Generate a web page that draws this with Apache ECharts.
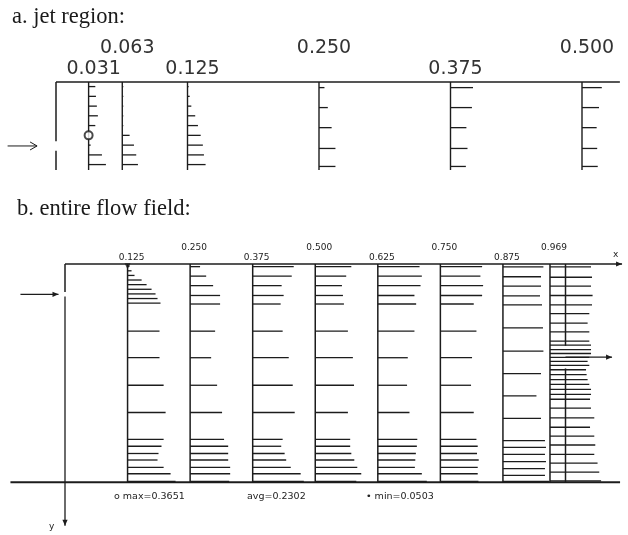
<!DOCTYPE html>
<html><head><meta charset="utf-8">
<script src="https://cdn.jsdelivr.net/npm/echarts@6/dist/echarts.min.js"></script>
<style>html,body{margin:0;padding:0;background:#fff}#c{width:628px;height:535px}</style>
</head><body><div id="c"></div>
<script>
// ---------------- data ----------------
const stationsA = [0.031, 0.063, 0.125, 0.250, 0.375, 0.500];
const labelsA = ['0.031', '0.063', '0.125', '0.250', '0.375', '0.500'];
const stationsB = [0.125, 0.250, 0.375, 0.500, 0.625, 0.750, 0.875, 0.969];
const labelsB = ['0.125', '0.250', '0.375', '0.500', '0.625', '0.750', '0.875', '0.969'];

// grid rows (depth y, same units as x)
const yFine = [0.0044, 0.0138, 0.0232, 0.0325, 0.0419, 0.0513, 0.0607, 0.0701, 0.0794];
const yCoarse = [0.0054, 0.0246, 0.0439, 0.0639, 0.0812, 0.1363, 0.1902, 0.2461, 0.3014,
                 0.3559, 0.3699, 0.3846, 0.3978, 0.4126, 0.4257, 0.4411];
const y875 = [0.0060, 0.0259, 0.0449, 0.0645, 0.0828, 0.1297, 0.1770, 0.2226, 0.2675, 0.3134,
              0.3583, 0.3723, 0.3862, 0.4012, 0.4152, 0.4291, 0.4411];
const y969 = [0.0060, 0.0269, 0.0449, 0.0639, 0.0828, 0.1008, 0.1198, 0.1377, 0.1567, 0.1647,
              0.1737, 0.1816, 0.1896, 0.1976, 0.2056, 0.2146, 0.2246, 0.2345, 0.2445, 0.2545,
              0.2645, 0.2745, 0.2924, 0.3124, 0.3313, 0.3493, 0.3673, 0.3862, 0.4042, 0.4222, 0.4401];

// horizontal velocity at each row
const u031 = [0.086, 0.094, 0.106, 0.119, 0.086, null, 0.026, 0.171, 0.222];
const u063 = [0.013, 0.013, 0.013, 0.013, 0.013, 0.094, 0.150, 0.179, 0.201];
const u125 = [0.014, 0.028, 0.049, 0.099, 0.134, 0.169, 0.197, 0.211, 0.232,
              0.225, 0.225, 0.254, 0.268, 0.254, 0.239, 0.218, 0.211, 0.254, 0.303, 0.338];
const u250 = [0.070, 0.113, 0.162, 0.211, 0.211, 0.176, 0.148, 0.190, 0.225, 0.239, 0.268, 0.268, 0.268, 0.282, 0.282, 0.275];
const u375 = [0.289, 0.275, 0.204, 0.218, 0.197, 0.211, 0.254, 0.282, 0.296, 0.211, 0.201, 0.225, 0.236, 0.268, 0.338, 0.360];
const u500 = [0.254, 0.218, 0.188, 0.195, 0.202, 0.230, 0.265, 0.273, 0.230, 0.246, 0.246, 0.254, 0.275, 0.296, 0.324, 0.289];
const u625 = [0.294, 0.310, 0.301, 0.258, 0.270, 0.258, 0.211, 0.206, 0.223, 0.278, 0.275, 0.268, 0.264, 0.261, 0.310, 0.345];
const u750 = [0.294, 0.282, 0.301, 0.294, 0.235, 0.254, 0.223, 0.216, 0.235, 0.254, 0.263, 0.258, 0.270, 0.263, 0.263, 0.268];
const u875 = [0.285, 0.268, 0.268, 0.261, 0.275, 0.282, 0.285, 0.268, 0.236, 0.268, 0.296, 0.303, 0.296, 0.303, 0.296, 0.296, 0.324];
const u969 = [0.289, 0.296, 0.289, 0.300, 0.296, 0.277, 0.265, 0.277, 0.277, 0.289, 0.289, 0.289, 0.277, 0.265, 0.277, 0.254,
              0.258, 0.265, 0.277, 0.289, 0.289, 0.282, 0.289, 0.312, 0.282, 0.312, 0.319, 0.312, 0.335, 0.347, 0.360];

const maxValue = 0.3651, avgValue = 0.2302, minValue = 0.0503;
const maxPoint = [0.031, 0.0513];
const minPoint = [0.125, 0.0044];
const inletSpan = [0.057, 0.066];
const outletSpan = [0.166, 0.212];
const depth = 0.443;

// ---------------- build ----------------
const profiles = [
  {x: 0.031, y: yFine, u: u031},
  {x: 0.063, y: yFine, u: u063},
  {x: 0.125, y: yFine.concat(yCoarse.slice(5)), u: u125},
  {x: 0.250, y: yCoarse, u: u250},
  {x: 0.375, y: yCoarse, u: u375},
  {x: 0.500, y: yCoarse, u: u500},
  {x: 0.625, y: yCoarse, u: u625},
  {x: 0.750, y: yCoarse, u: u750},
  {x: 0.875, y: y875, u: u875},
  {x: 0.969, y: y969, u: u969}
];
const A_YMAX = 0.0846;
function vectors(stations, yLimit) {
  const out = [];
  profiles.forEach(p => {
    if (stations.indexOf(p.x) < 0) return;
    p.y.forEach((y, i) => { if (p.u[i] != null && y <= yLimit) out.push([p.x, y, p.u[i]]); });
  });
  return out;
}
const INK = '#1c1c1c';
const SCALE_A = 0.0741, SCALE_B = 0.2837;

function vecSeries(gi, data, scale, lw) {
  return {type: 'custom', xAxisIndex: gi, yAxisIndex: gi, clip: false, encode: {x: 0, y: 1}, data,
    renderItem(params, api) {
      const x = api.value(0), y = api.value(1), u = api.value(2);
      const p0 = api.coord([x, y]), p1 = api.coord([x + u * scale, y]);
      return {type: 'line', shape: {x1: p0[0], y1: p0[1], x2: p1[0], y2: p1[1]}, style: {stroke: INK, lineWidth: lw}};
    }};
}
function stationSeries(gi, stations, yBottom, lw) {
  return {type: 'custom', xAxisIndex: gi, yAxisIndex: gi, clip: false, encode: {x: 0, y: 1},
    data: stations.map(s => [s, 0]),
    renderItem(params, api) {
      const x = api.value(0);
      const p0 = api.coord([x, 0]), p1 = api.coord([x, yBottom]);
      return {type: 'line', shape: {x1: p0[0], y1: p0[1], x2: p1[0], y2: p1[1]}, style: {stroke: INK, lineWidth: lw}};
    }};
}
function labelSeries(gi, stations, labels, dx, lowOff, highOff, font, color) {
  return {type: 'custom', xAxisIndex: gi, yAxisIndex: gi, clip: false, encode: {x: 0, y: 1},
    data: stations.map((s, i) => [s, 0, i]),
    renderItem(params, api) {
      const i = api.value(2);
      const p = api.coord([api.value(0), 0]);
      return {type: 'text', x: p[0] + dx, y: p[1] - (i % 2 === 0 ? lowOff : highOff),
        style: {text: labels[i], font, fill: color, align: 'center', verticalAlign: 'middle'}};
    }};
}
// geometry: [x1,y1,x2,y2,kind,width]  kind 0 line, 1 filled head, 2 open head
function geomSeries(gi, data) {
  return {type: 'custom', xAxisIndex: gi, yAxisIndex: gi, clip: false, encode: {x: [0, 2], y: [1, 3]}, data,
    renderItem(params, api) {
      const p0 = api.coord([api.value(0), api.value(1)]), p1 = api.coord([api.value(2), api.value(3)]);
      const kind = api.value(4), lw = api.value(5);
      const children = [{type: 'line', shape: {x1: p0[0], y1: p0[1], x2: p1[0], y2: p1[1]}, style: {stroke: INK, lineWidth: lw}}];
      if (kind > 0) {
        const dx = p1[0] - p0[0], dy = p1[1] - p0[1], L = Math.hypot(dx, dy) || 1;
        const ux = dx / L, uy = dy / L, nx = -uy, ny = ux;
        const hl = kind === 1 ? 6 : 7, hw = kind === 1 ? 2.6 : 4;
        const a = [p1[0] - ux * hl + nx * hw, p1[1] - uy * hl + ny * hw];
        const b = [p1[0] - ux * hl - nx * hw, p1[1] - uy * hl - ny * hw];
        if (kind === 1) children.push({type: 'polygon', shape: {points: [p1, a, b]}, style: {fill: INK}});
        else children.push({type: 'polyline', shape: {points: [a, p1, b]}, style: {stroke: INK, lineWidth: 1, fill: null}});
      }
      return {type: 'group', children};
    }};
}
const inletMid = (inletSpan[0] + inletSpan[1]) / 2;
const outletMid = (outletSpan[0] + outletSpan[1]) / 2;
const geomA = [
  [0, 0, 0.536, 0, 0, 1.5],
  [0, 0, 0, inletSpan[0], 0, 1.5],
  [0, inletSpan[1], 0, A_YMAX, 0, 1.5],
  [-0.046, inletMid, -0.018, inletMid, 2, 1]
];
const geomB = [
  [0, 0, 1.113, 0, 1, 1.5],
  [-0.109, depth, 1.109, depth, 0, 2],
  [0, 0, 0, inletSpan[0], 0, 1.5],
  [0, inletSpan[1], 0, 0.531, 1, 1.3],
  [1, 0, 1, outletSpan[0], 0, 1.5],
  [1, outletSpan[1], 1, depth, 0, 1.5],
  [-0.089, inletMid, -0.013, inletMid, 1, 1.3],
  [1, outletMid, 1.093, outletMid, 1, 1.3]
];

const chart = echarts.init(document.getElementById('c'), null, {renderer: 'canvas'});
chart.setOption({
  backgroundColor: '#ffffff',
  animation: false,
  grid: [
    {left: 3.4, top: 82, width: 620.68, height: 89.96},
    {left: 4.94, top: 264, width: 620.62, height: 275.55}
  ],
  xAxis: [
    {type: 'value', gridIndex: 0, min: -0.05, max: 0.54, show: false},
    {type: 'value', gridIndex: 1, min: -0.12, max: 1.12, show: false}
  ],
  yAxis: [
    {type: 'value', gridIndex: 0, min: 0, max: 0.0865, inverse: true, show: false},
    {type: 'value', gridIndex: 1, min: 0, max: 0.55, inverse: true, show: false}
  ],
  graphic: [
    {type: 'text', left: 12, top: 6, style: {text: 'a. jet region:', font: '22.5px "Liberation Serif"', fill: '#1a1a1a'}},
    {type: 'text', left: 17, top: 198, style: {text: 'b. entire flow field:', font: '22.5px "Liberation Serif"', fill: '#1a1a1a'}},
    {type: 'text', left: 114, top: 492, style: {text: 'o max=' + maxValue.toFixed(4), font: '9.5px "DejaVu Sans"', fill: '#222'}},
    {type: 'text', left: 247, top: 492, style: {text: 'avg=' + avgValue.toFixed(4), font: '9.5px "DejaVu Sans"', fill: '#222'}},
    {type: 'text', left: 366, top: 492, style: {text: '\u2022 min=' + minValue.toFixed(4), font: '9.5px "DejaVu Sans"', fill: '#222'}},
    {type: 'text', left: 613, top: 250, style: {text: 'x', font: '9px "DejaVu Sans"', fill: '#222'}},
    {type: 'text', left: 49, top: 522, style: {text: 'y', font: '9px "DejaVu Sans"', fill: '#222'}}
  ],
  series: [
    geomSeries(0, geomA),
    stationSeries(0, stationsA, A_YMAX, 1.4),
    vecSeries(0, vectors(stationsA, A_YMAX), SCALE_A, 1.3),
    labelSeries(0, stationsA, labelsA, 5, 13, 34, '19px "DejaVu Sans"', '#333'),
    {type: 'scatter', xAxisIndex: 0, yAxisIndex: 0, data: [maxPoint], symbol: 'circle', symbolSize: 8,
     itemStyle: {color: '#fff', borderColor: INK, borderWidth: 2}, z: 5},
    geomSeries(1, geomB),
    stationSeries(1, stationsB, depth, 1.5),
    vecSeries(1, vectors(stationsB, 1), SCALE_B, 1.3),
    labelSeries(1, stationsB, labelsB, 4, 6.5, 16.5, '9px "DejaVu Sans"', '#222'),
    {type: 'scatter', xAxisIndex: 1, yAxisIndex: 1, data: [minPoint], symbol: 'triangle', symbolRotate: 180, symbolSize: 6,
     itemStyle: {color: INK}, z: 5}
  ]
});
</script></body></html>
